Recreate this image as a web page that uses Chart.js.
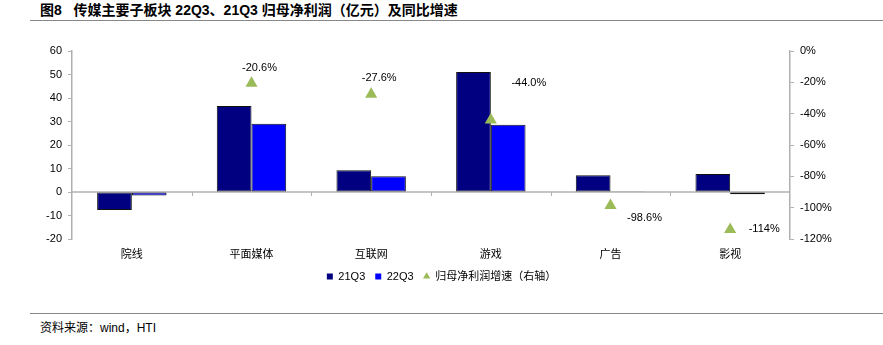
<!DOCTYPE html>
<html>
<head>
<meta charset="utf-8">
<script src="https://cdn.jsdelivr.net/npm/chart.js@4.4.1/dist/chart.umd.min.js"></script>
<style>
  body { margin: 0; width: 883px; height: 345px; background: #fff; position: relative; overflow: hidden;
         font-family: "Liberation Sans", Arial, "Noto Sans CJK SC", sans-serif; }
  .title { position: absolute; left: 40px; top: -1px; font-size: 14px; font-weight: bold; color: #000;
           font-family: "Liberation Sans", "Noto Sans CJK SC", sans-serif; }
  .rule { position: absolute; left: 30px; right: 0; height: 1px; background: #888; }
  .source { position: absolute; left: 40px; top: 318px; font-size: 12px; color: #000;
            font-family: "Liberation Sans", "Noto Sans CJK SC", sans-serif; }
  .wrap { position: absolute; left: 0; top: 30px; width: 883px; height: 262px; }
</style>
</head>
<body>
<div class="title">图8&nbsp;&nbsp;&nbsp;传媒主要子板块 22Q3、21Q3 归母净利润（亿元）及同比增速</div>
<div class="rule" style="top:20px"></div>
<div class="wrap"><canvas id="c" width="883" height="262"></canvas></div>
<div class="rule" style="top:313px"></div>
<div class="source">资料来源：wind，HTI</div>
<script>
// 子板块及归母净利润（亿元）
const sectors = ['院线', '平面媒体', '互联网', '游戏', '广告', '影视'];
const profit21Q3 = [-7.7, 36.6, 9.3, 51.1, 7.1, 7.7];
const profit22Q3 = [-1.5, 29.0, 6.7, 28.6, 0.1, -1.0];
// 同比增速（%），院线无增速
const growth = [null, -20.6, -27.6, -44.0, -98.6, -114];
const growthLabels = [null, '-20.6%', '-27.6%', '-44.0%', '-98.6%', '-114%'];

const leftTicks = [60, 50, 40, 30, 20, 10, 0, -10, -20];
const rightTicks = [0, -20, -40, -60, -80, -100, -120];

// label offsets relative to each triangle (dx, dy)
const labelOffsets = [null, [8, -15], [8, -16], [38, -37], [34, 12], [34, -1]];

const growthLabelPlugin = {
  id: 'growthLabels',
  afterDatasetsDraw(chart) {
    const ctx = chart.ctx;
    const meta = chart.getDatasetMeta(2);
    ctx.save();
    ctx.font = '11px "Liberation Sans", Arial, sans-serif';
    ctx.fillStyle = '#000';
    ctx.textAlign = 'center';
    ctx.textBaseline = 'middle';
    meta.data.forEach((pt, i) => {
      if (growth[i] === null) return;
      const off = labelOffsets[i];
      ctx.fillText(growthLabels[i], pt.x + off[0], pt.y + off[1]);
    });
    ctx.restore();
  }
};

// zero line with category separators
const zeroLinePlugin = {
  id: 'zeroLine',
  beforeDatasetsDraw(chart) {
    const ctx = chart.ctx;
    const y = chart.scales.y.getPixelForValue(0);
    const x = chart.scales.x;
    const area = chart.chartArea;
    ctx.save();
    ctx.strokeStyle = '#b0b0b0';
    ctx.lineWidth = 1.5;
    ctx.beginPath();
    ctx.moveTo(area.left, y);
    ctx.lineTo(area.right, y);
    ctx.stroke();
    ctx.lineWidth = 1;
    for (let i = 1; i < sectors.length; i++) {
      const xp = Math.round((x.getPixelForValue(i - 1) + x.getPixelForValue(i)) / 2) + 0.5;
      ctx.beginPath();
      ctx.moveTo(xp, y);
      ctx.lineTo(xp, y + 4);
      ctx.stroke();
    }
    ctx.restore();
  }
};

new Chart(document.getElementById('c'), {
  data: {
    labels: sectors,
    datasets: [
      {
        type: 'bar',
        label: '21Q3',
        data: profit21Q3,
        backgroundColor: '#000080',
        borderColor: '#111',
        borderWidth: 1,
        borderSkipped: false,
        categoryPercentage: 0.58,
        barPercentage: 1,
        yAxisID: 'y',
        order: 2
      },
      {
        type: 'bar',
        label: '22Q3',
        data: profit22Q3,
        backgroundColor: '#0000ff',
        borderColor: '#111',
        borderWidth: 1,
        borderSkipped: false,
        categoryPercentage: 0.58,
        barPercentage: 1,
        yAxisID: 'y',
        order: 2
      },
      {
        type: 'line',
        label: '归母净利润增速（右轴）',
        data: growth,
        showLine: false,
        pointStyle: 'triangle',
        pointRadius: 7,
        backgroundColor: '#9bbb59',
        borderColor: '#9bbb59',
        borderWidth: 0,
        yAxisID: 'y1',
        order: 1
      }
    ]
  },
  options: {
    responsive: false,
    animation: false,
    layout: { padding: { top: 21, left: 0, right: 0, bottom: 0 } },
    plugins: {
      tooltip: { enabled: false },
      legend: {
        position: 'bottom',
        labels: {
          usePointStyle: true,
          boxWidth: 6,
          boxHeight: 6,
          padding: 10,
          color: '#000',
          font: { size: 11, family: '"Liberation Sans", Arial, "Noto Sans CJK SC", sans-serif' },
          generateLabels(chart) {
            return chart.data.datasets.map((ds, i) => ({
              text: ds.label,
              fillStyle: ds.backgroundColor,
              strokeStyle: ds.backgroundColor,
              lineWidth: 0,
              pointStyle: i === 2 ? 'triangle' : 'rect',
              datasetIndex: i
            }));
          }
        }
      }
    },
    scales: {
      x: {
        grid: { display: false, drawTicks: false },
        border: { display: false },
        ticks: {
          color: '#000',
          padding: 8,
          font: { size: 11, family: '"Noto Sans CJK SC", sans-serif' }
        },
        afterFit(scale) { scale.height = 22; }
      },
      y: {
        position: 'left',
        min: -20,
        max: 60,
        afterBuildTicks(scale) { scale.ticks = leftTicks.map(v => ({ value: v })); },
        grid: { drawOnChartArea: false, tickLength: 4, color: '#b0b0b0' },
        border: { color: '#b0b0b0', width: 1.5 },
        ticks: {
          color: '#000',
          padding: 6,
          font: { size: 11, family: '"Liberation Sans", Arial, sans-serif' }
        },
        afterFit(scale) { scale.width = 72; }
      },
      y1: {
        position: 'right',
        min: -120,
        max: 0,
        afterBuildTicks(scale) { scale.ticks = rightTicks.map(v => ({ value: v })); },
        grid: { drawOnChartArea: false, tickLength: 4, color: '#b0b0b0' },
        border: { color: '#b0b0b0', width: 1.5 },
        ticks: {
          color: '#000',
          padding: 6,
          callback: v => v + '%',
          font: { size: 11, family: '"Liberation Sans", Arial, sans-serif' }
        },
        afterFit(scale) { scale.width = 93; }
      }
    }
  },
  plugins: [zeroLinePlugin, growthLabelPlugin]
});
</script>
</body>
</html>
